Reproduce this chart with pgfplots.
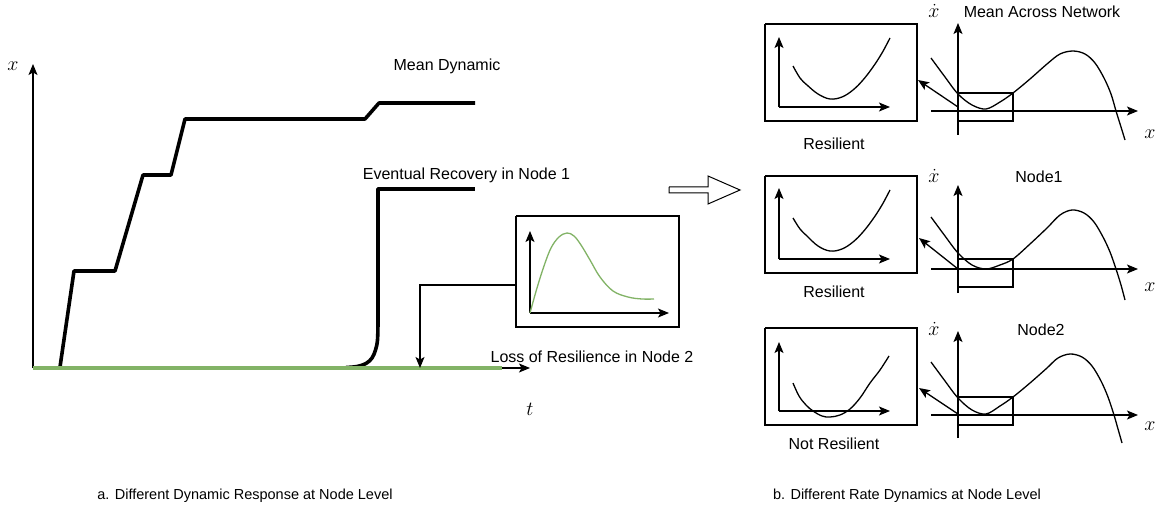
\documentclass[border=0pt]{standalone}
\usepackage{fix-cm}
\usepackage{fontspec}
\setmainfont{Liberation Sans}
\usepackage{pgfplots}
\pgfplotsset{compat=1.18}
\usetikzlibrary{arrows.meta}
\definecolor{dgreen}{HTML}{82B366}
\newcommand\lab{\fontsize{16}{19}\selectfont}
\newcommand\mlab{\fontsize{20}{23}\selectfont}
\newcommand\capf{\fontsize{14.5}{17}\selectfont}
\tikzset{
  ln/.style={black, line width=1.3pt, line join=miter},
  arr/.style={-{Stealth[length=11pt,width=9pt,inset=2.5pt]}},
  bold/.style={black, line width=3.6pt, line join=round},
}
\begin{document}
\begin{tikzpicture}
\begin{axis}[
  width=1163pt, height=508pt, scale only axis,
  xmin=0, xmax=1163, ymin=0, ymax=508, y dir=reverse,
  hide axis, clip=false,
  every axis plot/.append style={no marks},
]
\path (axis cs:0,0) rectangle (axis cs:1163,508);

% ---------- left: main dynamics ----------
\addplot[ln, arr] coordinates {(33,368) (33,64)};
\addplot[ln, arr] coordinates {(33,368) (530,368)};
\addplot[bold] coordinates {(60,367) (74,271) (115,271) (143,175) (171,175) (185,119) (365,119) (379,103) (475,103)};
\addplot[bold, smooth, tension=0.6] coordinates {(346,367.5) (357,366.5) (366,363.5) (372,358) (375.5,350) (377.5,340) (378,322)};
\addplot[bold] coordinates {(378,323) (378,189) (475,189)};
\addplot[dgreen, line width=4.5pt] coordinates {(33,368) (502,368)};
% connector
\addplot[ln, arr] coordinates {(516,285) (420,285) (420,368)};
% inset box
\addplot[ln, fill=white] coordinates {(516,216) (679,216) (679,327) (516,327) (516,216)};
\addplot[ln, arr] coordinates {(530,313) (530,231)};
\addplot[ln, arr] coordinates {(530,313) (669,313)};
\addplot[dgreen, line width=1.3pt, smooth, tension=0.6] coordinates {(530,313) (537,288) (544,266) (551,248) (559,237) (567,233) (574,236) (581,245) (590,260) (600,277) (613,291) (628,297) (642,299) (654,299)};

\node[font=\mlab] at (axis cs:13,66) {$x$};
\node[font=\mlab] at (axis cs:530,409) {$t$};
\node[font=\lab] at (axis cs:447,66) {Mean Dynamic};
\node[font=\lab] at (axis cs:466.5,175) {Eventual Recovery in Node 1};
\node[font=\lab] at (axis cs:592,357) {Loss of Resilience in Node 2};

% hollow arrow
\addplot[black, line width=1pt, fill=white, line join=miter] coordinates {(669,187) (708,187) (708,176) (740,190) (708,204) (708,193) (669,193) (669,187)};

% ---------- right: row 1 ----------
\addplot[ln, fill=white] coordinates {(765,24) (917,24) (917,121) (765,121) (765,24)};
\addplot[ln, arr] coordinates {(779,107) (779,37)};
\addplot[ln, arr] coordinates {(779,107) (890,107)};
\addplot[ln, smooth, tension=0.6] coordinates {(793,66) (800,78) (807,85) (818,94) (830,99) (842,97) (853,90) (863,80) (873,67) (882,53) (890,38)};
\addplot[ln, arr] coordinates {(958,135) (958,23)};
\addplot[ln, arr] coordinates {(931,111) (1138,111)};
\addplot[ln, smooth, tension=0.55] coordinates {(931,58) (945,77) (958,94) (972,105) (986,109) (1000,102) (1013,93) (1030,79) (1047,64) (1060,54) (1073,51) (1085,54) (1095,63) (1104,78) (1111,94) (1116,111) (1121,127) (1125,140)};
\addplot[ln] coordinates {(958,93) (1013,93) (1013,121) (958,121) (958,93)};
\addplot[ln, arr] coordinates {(958,107) (918,80)};
\node[font=\mlab] at (axis cs:934,11) {$\dot{x}$};
\node[font=\mlab] at (axis cs:1150,134) {$x$};
\node[font=\lab] at (axis cs:1042,12) {Mean Across Network};
\node[font=\lab] at (axis cs:834,144) {Resilient};

% ---------- right: row 2 ----------
\addplot[ln, fill=white] coordinates {(765,176) (917,176) (917,273) (765,273) (765,176)};
\addplot[ln, arr] coordinates {(779,259) (779,188)};
\addplot[ln, arr] coordinates {(779,259) (890,259)};
\addplot[ln, smooth, tension=0.6] coordinates {(793,218) (800,229) (807,236) (818,246) (830,251) (842,249) (853,242) (863,232) (873,219) (882,205) (890,190)};
\addplot[ln, arr] coordinates {(958,293) (958,185)};
\addplot[ln, arr] coordinates {(931,269) (1138,269)};
\addplot[ln, smooth, tension=0.55] coordinates {(931,217) (945,236) (958,253) (972,265) (986,269) (1000,265) (1013,259) (1030,244) (1047,228) (1060,215) (1072,210) (1084,213) (1094,222) (1103,237) (1110,252) (1116,269) (1121,285) (1125,300)};
\addplot[ln] coordinates {(958,259) (1013,259) (1013,287) (958,287) (958,259)};
\addplot[ln, arr] coordinates {(958,269) (919,238)};
\node[font=\mlab] at (axis cs:934,176) {$\dot{x}$};
\node[font=\mlab] at (axis cs:1150,287) {$x$};
\node[font=\lab] at (axis cs:1039,177) {Node1};
\node[font=\lab] at (axis cs:834,292) {Resilient};

% ---------- right: row 3 ----------
\addplot[ln, fill=white] coordinates {(765,328) (917,328) (917,425) (765,425) (765,328)};
\addplot[ln, arr] coordinates {(779,411) (779,342)};
\addplot[ln, arr] coordinates {(779,411) (890,411)};
\addplot[ln, smooth, tension=0.6] coordinates {(793,383) (799,396) (806,405) (813,411) (822,416) (830,417) (840,415) (850,409) (860,398) (870,383) (880,370) (889,356)};
\addplot[ln, arr] coordinates {(958,438) (958,331)};
\addplot[ln, arr] coordinates {(931,415) (1138,415)};
\addplot[ln, smooth, tension=0.55] coordinates {(931,362) (945,381) (958,398) (972,410) (986,414) (1000,406) (1013,397) (1030,383) (1047,368) (1058,358) (1070,354) (1082,357) (1092,366) (1101,381) (1108,397) (1114,415) (1118,429) (1122,443)};
\addplot[ln] coordinates {(958,397) (1013,397) (1013,425) (958,425) (958,397)};
\addplot[ln, arr] coordinates {(958,414) (919,388)};
\node[font=\mlab] at (axis cs:934,329) {$\dot{x}$};
\node[font=\mlab] at (axis cs:1150,426) {$x$};
\node[font=\lab] at (axis cs:1041,330) {Node2};
\node[font=\lab] at (axis cs:834,444) {Not Resilient};

% ---------- captions ----------
\node[font=\capf] at (axis cs:245,496) {a. Different Dynamic Response at Node Level};
\node[font=\capf] at (axis cs:907,496) {b. Different Rate Dynamics at Node Level};
\end{axis}
\end{tikzpicture}
\end{document}
